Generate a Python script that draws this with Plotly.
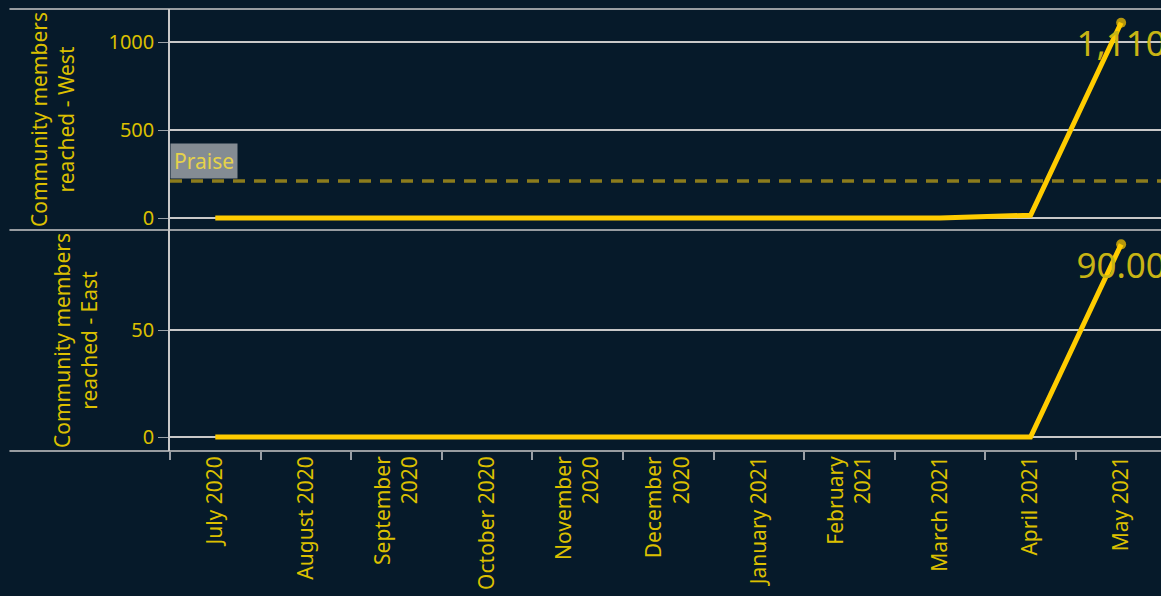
import plotly.graph_objects as go

months = ["July 2020", "August 2020", "September<br>2020", "October 2020", "November<br>2020",
          "December<br>2020", "January 2021", "February<br>2021", "March 2021", "April 2021", "May 2021"]
west = [0, 0, 0, 0, 0, 0, 0, 0, 0, 16, 1110]
east = [0, 0, 0, 0, 0, 0, 0, 0, 0, 0, 90]
west_label = "1,110"
east_label = "90.00"
praise_value = 210
praise_label = "Praise"

BG = "#061a2a"
TXT = "#dcc000"
LINE = "#ffcc00"
GRID = "#c8c8c8"
FONT = "Noto Sans"

n = len(months)

def labels(last):
    return [""] * (n - 1) + [last]

def sizes():
    return [0] * (n - 1) + [10]

fig = go.Figure()
for vals, lab, ya in [(west, west_label, "y"), (east, east_label, "y2")]:
    fig.add_trace(go.Scatter(
        x=months, y=vals, xaxis="x", yaxis=ya, mode="lines+markers+text",
        line=dict(color=LINE, width=5), marker=dict(size=sizes(), color=LINE, line=dict(width=0)),
        text=labels(lab), textposition="bottom center",
        textfont=dict(size=35, color="#c8b414", family=FONT), cliponaxis=False,
        showlegend=False, hoverinfo="skip"))

shapes = []
for yr in ["y", "y2"]:
    shapes.append(dict(type="line", xref="paper", yref=yr, x0=0, x1=1, y0=0, y1=0,
                       line=dict(color="#d0d0d0", width=1.5, dash="dot"), layer="below"))
for yy in [1, 0.5, 0]:
    shapes.append(dict(type="line", xref="paper", yref="paper", x0=-0.162, x1=1, y0=yy, y1=yy,
                       line=dict(color=GRID, width=1.5)))
shapes.append(dict(type="line", xref="paper", yref="y", x0=0, x1=1, y0=praise_value, y1=praise_value,
                   line=dict(color="#8c7c1c", width=3.5, dash="12px,9px"), layer="below"))

yax_common = dict(showgrid=True, gridcolor=GRID, gridwidth=1.5, zeroline=False,
                  showline=True, linecolor=GRID, linewidth=1.5,
                  ticks="outside", ticklen=10, tickcolor="#9aa0a6",
                  tickfont=dict(size=20, color=TXT))

fig.update_layout(
    width=1161, height=596,
    margin=dict(l=170, r=0, t=9, b=145),
    paper_bgcolor=BG, plot_bgcolor=BG,
    font=dict(family=FONT, color=TXT, size=20),
    shapes=shapes,
    xaxis=dict(anchor="y2", type="category", range=[-0.5, 10.44], tickson="boundaries",
               ticks="outside", ticklen=8, tickcolor="#9aa0a6", tickwidth=1.5,
               tickangle=-90, showgrid=False, zeroline=False, showline=False,
               tickfont=dict(size=21, color=TXT)),
    yaxis=dict(domain=[0.5, 1], range=[-68, 1188], tickvals=[0, 500, 1000],
               title=dict(text="Community members<br>reached - West", font=dict(size=21, color=TXT), standoff=28),
               **yax_common),
    yaxis2=dict(domain=[0, 0.5], range=[-6.5, 96.7], tickvals=[0, 50],
                title=dict(text="Community members<br>reached - East", font=dict(size=21, color=TXT), standoff=28),
                **yax_common),
    annotations=[dict(text=praise_label, xref="paper", yref="y", x=0, y=praise_value,
                      xanchor="left", yanchor="bottom", showarrow=False,
                      bgcolor="#848c93", font=dict(size=21, color="#e6d24a"),
                      borderpad=3, yshift=2)],
)

fig.write_html("out.html", config={"displayModeBar": False},
               post_script="document.body.style.margin='0';document.body.style.overflow='hidden';")
